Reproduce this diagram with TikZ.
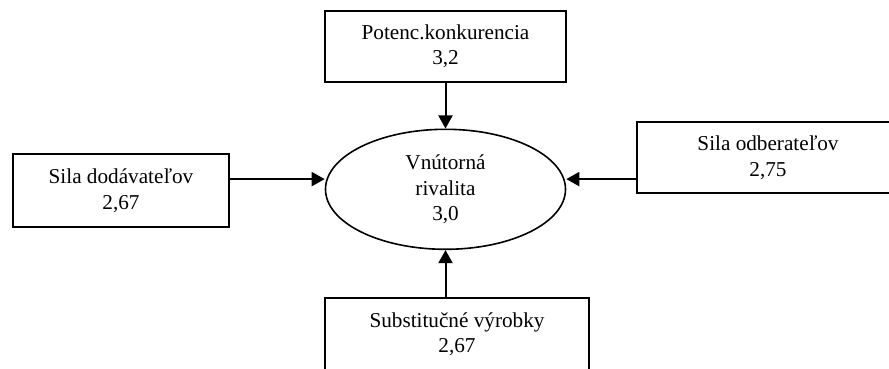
\documentclass[tikz,border=0pt]{standalone}
\usepackage{fontspec}
\setmainfont{Liberation Serif}
\usetikzlibrary{shapes.geometric,arrows.meta}

\begin{document}
\begin{tikzpicture}[x=0.5pt,y=-0.5pt,
        every node/.style={font=\fontsize{10.6}{12.8}\selectfont, align=center},
        box/.style={draw, line width=1pt, minimum height=35.5pt},
        oval/.style={draw, ellipse, line width=0.8pt, inner sep=0pt,
            minimum width=120pt, minimum height=60pt},
        arr/.style={line width=1pt, -{Triangle[length=6.5pt,width=7pt]}}]
    \useasboundingbox (0,0) rectangle (889,369);
    \node[oval] (ell) at (445.5,189.3) {Vnútorná\\rivalita\\3,0};
    \node[box, minimum width=120.5pt] (pot) at (445.5,46.2) {Potenc.konkurencia\\3,2};
    \node[box, minimum width=108.2pt, minimum height=36.5pt] (dod) at (121,190.5) {Sila dodávateľov\\2,67};
    \node[box, minimum width=131pt] (odb) at (768,157.7) {Sila odberateľov\\2,75};
    \node[box, minimum width=132.2pt, minimum height=36pt] (sub) at (457,334.3) {Substitučné výrobky\\2,67};
    \draw[arr] (pot) -- (ell);
    \draw[arr] ([yshift=5.1pt]ell.west -| dod.east) -- ([yshift=5.1pt]ell.west);
    \draw[arr] ([yshift=5.1pt]ell.east -| odb.west) -- ([yshift=5.1pt]ell.east);
    \draw[arr] (sub.north -| ell) -- (ell.south);
\end{tikzpicture}
\end{document}
